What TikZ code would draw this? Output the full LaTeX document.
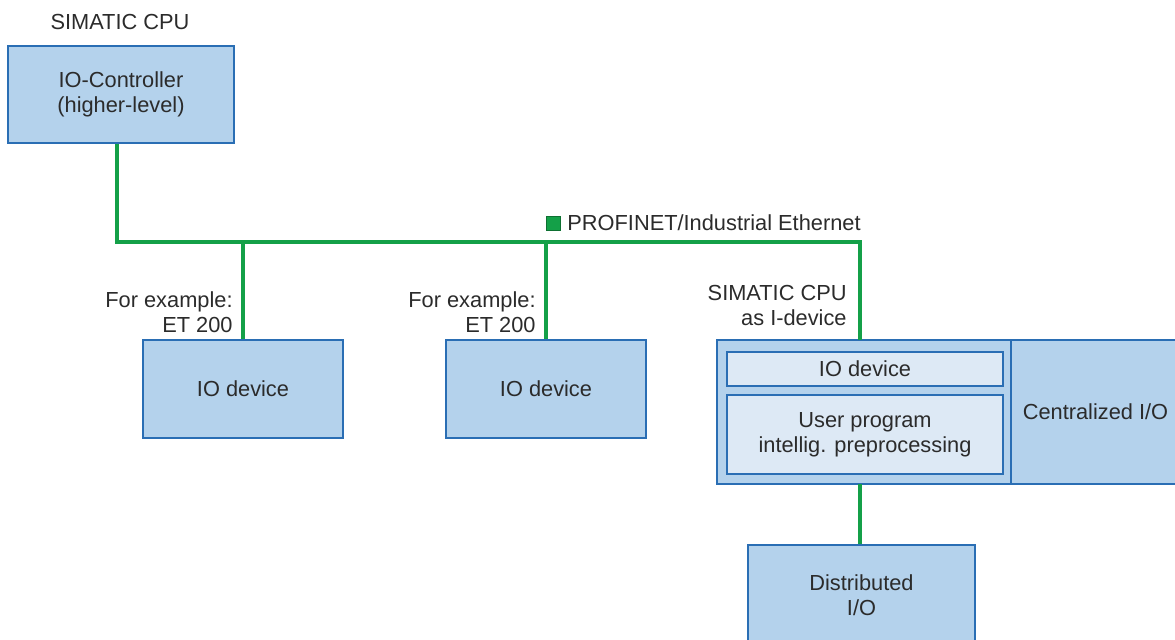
\documentclass[tikz,border=0pt]{standalone}
\usepackage{fontspec}
\setmainfont{Liberation Sans}
\usetikzlibrary{calc}
\definecolor{boxfill}{HTML}{B4D2EC}
\definecolor{boxline}{HTML}{2A6EB4}
\definecolor{innerfill}{HTML}{DDE9F5}
\definecolor{netgreen}{HTML}{14A048}
\definecolor{txt}{HTML}{2B2B2B}
\tikzset{
  unit/.style={draw=boxline, line width=1pt, fill=boxfill, inner sep=0pt,
    align=center, text=txt},
  inner unit/.style={unit, fill=innerfill},
  bus/.style={netgreen, line width=2.3pt},
  note/.style={inner sep=0pt, text=txt}
}
\begin{document}
\begin{tikzpicture}[x=0.5pt, y=-0.5pt,
  every node/.append style={font=\fontsize{10.9}{12.4}\selectfont}]
  \useasboundingbox (0,0) rectangle (1175,639);
  \clip (0,0) rectangle (1175,639);

  %--- higher-level controller ---
  \node[note] (ctrltitle) at (120,22) {SIMATIC CPU};
  \node[unit, minimum width=113pt, minimum height=48.5pt] (ctrl) at (121,94.5)
    {IO-Controller\\(higher-level)};

  %--- IO devices on the bus ---
  \node[unit, minimum width=100pt, minimum height=49pt] (dev1) at (243,389) {IO device};
  \node[unit, minimum width=100pt, minimum height=49pt] (dev2) at (546,389) {IO device};
  \node[note, align=right, anchor=east] (dev1lbl) at (233,312) {For example:\\ET 200};
  \node[note, align=right, anchor=east] (dev2lbl) at (536,312) {For example:\\ET 200};

  %--- SIMATIC CPU as I-device ---
  \node[unit, minimum width=147pt, minimum height=72pt] (cpu) at (864,412) {};
  \node[unit, minimum width=84.5pt, minimum height=72pt] (cio) at (1095.5,412) {Centralized I/O};
  \node[inner unit, minimum width=138pt, minimum height=17pt] (iodev) at (865,369) {IO device};
  \node[inner unit, minimum width=138pt, minimum height=39.5pt] (prog) at (865,434.5)
    {User program\\intellig. preprocessing};
  \node[note, align=right, anchor=east] (cpulbl) at (847,305.5) {SIMATIC CPU\\as I-device};
  \coordinate (cputop) at (860,340);
  \coordinate (cpubot) at (860,484);

  %--- distributed I/O ---
  \node[unit, minimum width=113.5pt, minimum height=50pt] (dist) at (861.5,595)
    {Distributed\\I/O};

  %--- PROFINET bus ---
  \coordinate (bus) at (117,242);
  \draw[bus] ([xshift=-2pt]ctrl.south) -- (bus) -- (bus -| cputop) -- (cputop);
  \draw[bus] (dev1.north) -- (dev1.north |- bus);
  \draw[bus] (dev2.north) -- (dev2.north |- bus);
  \draw[bus] (cpubot) -- (dist.north -| cpubot);

  %--- legend ---
  \node[fill=netgreen, draw=netgreen!70!black, line width=0.4pt, minimum size=7pt,
    inner sep=0pt] (legend) at (553,223) {};
  \node[note, anchor=west] (legendlbl) at (567,223) {PROFINET/Industrial Ethernet};
\end{tikzpicture}
\end{document}
